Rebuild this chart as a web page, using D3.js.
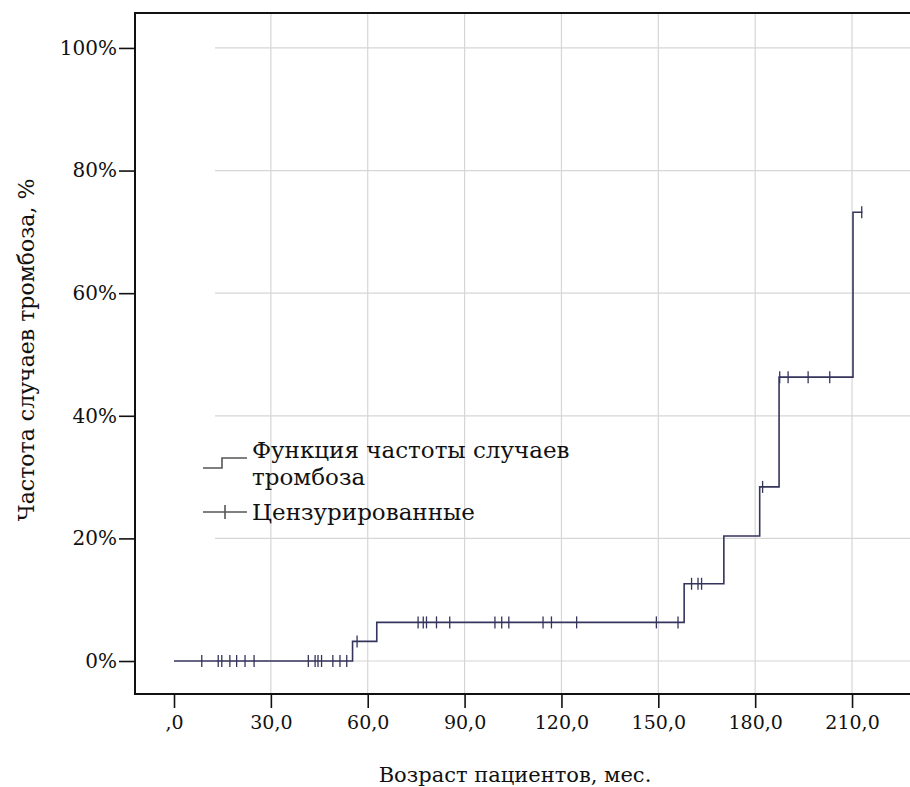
<!DOCTYPE html>
<html>
<head>
<meta charset="utf-8">
<script src="https://cdn.jsdelivr.net/npm/d3@7"></script>
<style>
  body { margin: 0; background: #fff; }
  svg { display: block; }
  text { font-family: "DejaVu Serif", serif; }
</style>
</head>
<body>
<div id="chart"></div>
<script>
// Step function of the cumulative incidence (months, %)
const stepTimes = [0, 55.3, 62.8, 158.0, 170.3, 181.4, 187.4, 210.3];
const stepValues = [0, 3.2, 6.3, 12.6, 20.4, 28.4, 46.3, 73.2];
const endTime = 213.2;

// Censored observations (months)
const censorTimes = [
  8.6, 13.7, 14.8, 17.3, 19.4, 22.0, 24.8,
  41.6, 43.7, 44.6, 45.7, 49.2, 51.4, 53.5,
  56.7,
  75.6, 77.2, 78.2, 81.3, 85.4, 99.4, 101.5, 103.7, 114.3, 116.9, 124.7, 149.4, 156.1,
  160.3, 162.3, 163.4,
  182.3,
  187.6, 190.2, 196.4, 203.1,
  213.0
];

const xTicks = [0, 30, 60, 90, 120, 150, 180, 210];
const yTicks = [0, 20, 40, 60, 80, 100];

const legendLabels = [["Функция частоты случаев", "тромбоза"], ["Цензурированные"]];
const xTitle = "Возраст пациентов, мес.";
const yTitle = "Частота случаев тромбоза, %";

const width = 910, height = 787;
const plot = { left: 135, right: 915, top: 13, bottom: 694 };
const lineColor = "#34345c";

const svg = d3.select("#chart").append("svg")
  .attr("width", width)
  .attr("height", height);

const x = d3.scaleLinear().domain([-12.08, 229.5]).range([plot.left, plot.right]);
const y = d3.scaleLinear().domain([-5.38, 105.7]).range([plot.bottom, plot.top]);

// value of the step function at time t
const valueAt = t => {
  let v = stepValues[0];
  stepTimes.forEach((s, i) => { if (t >= s) v = stepValues[i]; });
  return v;
};

// grid
svg.append("g").selectAll("line.hgrid")
  .data(yTicks).join("line")
  .attr("x1", 215).attr("x2", plot.right)
  .attr("y1", d => y(d)).attr("y2", d => y(d))
  .attr("stroke", "#d6d6d6").attr("stroke-width", 1.2);

svg.append("g").selectAll("line.vgrid")
  .data(xTicks.filter(d => d > 0)).join("line")
  .attr("x1", d => x(d)).attr("x2", d => x(d))
  .attr("y1", plot.top).attr("y2", plot.bottom)
  .attr("stroke", "#d6d6d6").attr("stroke-width", 1.2);

// axes
const fmtX = d => d === 0 ? ",0" : d.toFixed(1).replace(".", ",");

const xAxis = svg.append("g")
  .attr("transform", `translate(0,${plot.bottom})`)
  .call(d3.axisBottom(x).tickValues(xTicks).tickFormat(fmtX).tickSize(14).tickPadding(8));

const yAxis = svg.append("g")
  .attr("transform", `translate(${plot.left},0)`)
  .call(d3.axisLeft(y).tickValues(yTicks).tickFormat(d => d + "%").tickSize(16).tickPadding(2));

[xAxis, yAxis].forEach(a => {
  a.attr("font-family", null);
  a.select(".domain").remove();
  a.selectAll(".tick line").attr("stroke", "#111").attr("stroke-width", 1.6);
  a.selectAll(".tick text").attr("fill", "#111");
});
xAxis.selectAll(".tick text").attr("font-size", 19);
yAxis.selectAll(".tick text").attr("font-size", 20);

// frame
svg.append("rect")
  .attr("x", plot.left).attr("y", plot.top)
  .attr("width", plot.right - plot.left).attr("height", plot.bottom - plot.top)
  .attr("fill", "none").attr("stroke", "#111").attr("stroke-width", 2);

// step line
const pts = [];
stepTimes.forEach((t, i) => {
  if (i > 0) pts.push([t, stepValues[i - 1]]);
  pts.push([t, stepValues[i]]);
});
pts.push([endTime, stepValues[stepValues.length - 1]]);

const line = d3.line().x(d => x(d[0])).y(d => y(d[1]));

svg.append("path")
  .datum(pts)
  .attr("d", line)
  .attr("fill", "none")
  .attr("stroke", lineColor)
  .attr("stroke-width", 1.6);

// censor marks
svg.append("g").selectAll("line")
  .data(censorTimes).join("line")
  .attr("x1", d => x(d)).attr("x2", d => x(d))
  .attr("y1", d => y(valueAt(d)) - 6).attr("y2", d => y(valueAt(d)) + 6)
  .attr("stroke", lineColor).attr("stroke-width", 1.3);

// legend
const legend = svg.append("g");
legend.append("path")
  .attr("d", "M203,468H222V458H247")
  .attr("fill", "none").attr("stroke", "#555").attr("stroke-width", 1.6);
legend.append("line")
  .attr("x1", 203).attr("x2", 247).attr("y1", 512).attr("y2", 512)
  .attr("stroke", "#555").attr("stroke-width", 1.6);
legend.append("line")
  .attr("x1", 225).attr("x2", 225).attr("y1", 505).attr("y2", 519)
  .attr("stroke", "#555").attr("stroke-width", 1.6);

const legText = legend.append("text")
  .attr("font-size", 23).attr("fill", "#111");
legText.append("tspan").attr("x", 252).attr("y", 458).text(legendLabels[0][0]);
legText.append("tspan").attr("x", 252).attr("y", 485).text(legendLabels[0][1]);
legText.append("tspan").attr("x", 252).attr("y", 520).text(legendLabels[1][0]);

// titles
svg.append("text")
  .attr("x", 515).attr("y", 782)
  .attr("text-anchor", "middle")
  .attr("font-size", 21).attr("fill", "#111")
  .text(xTitle);

svg.append("text")
  .attr("transform", `translate(34,350) rotate(-90)`)
  .attr("text-anchor", "middle")
  .attr("font-size", 22).attr("fill", "#111")
  .text(yTitle);
</script>
</body>
</html>
